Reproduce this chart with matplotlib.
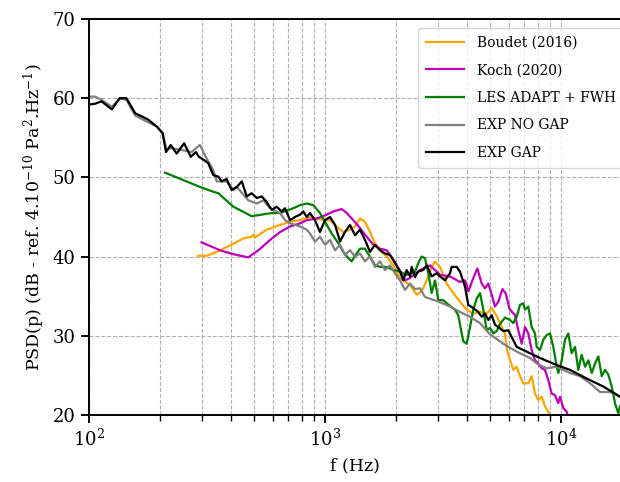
import numpy as np
import matplotlib
matplotlib.use('Agg')
import matplotlib.pyplot as plt

plt.rcParams['font.family'] = 'DejaVu Serif'
plt.rcParams['mathtext.fontset'] = 'dejavuserif'

# Boudet (2016)
f_boudet = [290, 315, 348, 396, 451, 489, 497, 505, 566, 645, 711, 784, 864, 1000, 1050,
            1139, 1196, 1276, 1340, 1407, 1477, 1551, 1629, 1710, 1826, 1947, 2079, 2292,
            2446, 2568, 2698, 2832, 2925, 3071, 3278, 3496, 3733, 3985, 4251, 4538, 4844,
            5085, 5339, 5550, 5790, 5900, 6078, 6277, 6490, 6703, 6922, 7267, 7513, 7758,
            8013, 8283, 8553, 8834, 8982]
p_boudet = [40.1, 40.1, 40.6, 41.4, 42.3, 42.5, 42.8, 42.4, 43.4, 44.0, 44.4, 44.6, 45.0, 44.6, 44.6,
            43.6, 43.1, 43.4, 43.8, 44.8, 44.4, 43.1, 41.7, 40.8, 40.0, 38.9, 37.3, 36.4,
            35.2, 35.6, 37.0, 38.7, 39.4, 38.7, 36.6, 35.4, 34.3, 33.3, 32.8, 33.0, 32.8,
            33.5, 32.5, 31.4, 30.3, 28.2, 27.0, 25.7, 26.1, 24.9, 24.0, 24.0, 24.9, 22.7,
            21.9, 22.3, 21.1, 20.4, 19.8]

# Koch (2020)
f_koch = [300, 359, 409, 473, 522, 585, 645, 711, 784, 837, 922, 1000, 1084, 1177, 1236,
          1318, 1407, 1502, 1602, 1710, 1826, 1947, 2079, 2183, 2292, 2526, 2786, 3071,
          3385, 3733, 3920, 4048, 4251, 4420, 4613, 4764, 4919, 5085, 5252, 5424, 5650,
          5840, 6050, 6383, 6593, 6815, 7038, 7267, 7513, 7758, 8013, 8283, 8553, 8834,
          9132, 9432, 9741, 9904, 10226, 10572, 10738]
p_koch = [41.8, 40.8, 40.3, 39.9, 40.8, 42.1, 43.1, 43.8, 44.2, 44.6, 44.8, 45.2, 45.7, 46.0, 45.5,
          44.6, 43.6, 42.5, 41.5, 41.0, 40.8, 39.6, 38.2, 37.0, 37.3, 38.3, 38.9, 37.7,
          37.5, 36.8, 37.0, 35.6, 37.3, 38.5, 36.6, 36.0, 36.6, 35.2, 33.7, 34.3, 35.9,
          35.3, 33.4, 32.6, 30.7, 29.0, 31.1, 30.3, 28.2, 26.9, 26.5, 25.9, 25.7, 24.4,
          22.7, 22.5, 21.5, 22.3, 20.9, 20.4, 19.8]

# LES ADAPT + FWH
f_les = [210, 295, 335, 353, 409, 489, 595, 645, 734, 784, 837, 892, 952, 1000, 1068,
         1139, 1196, 1255, 1297, 1362, 1407, 1477, 1551, 1629, 1710, 1826, 1947, 2079,
         2219, 2406, 2485, 2568, 2653, 2740, 2832, 2925, 3021, 3171, 3278, 3554, 3670,
         3795, 3855, 3985, 4115, 4251, 4394, 4538, 4686, 4844, 5002, 5165, 5339, 5514,
         5790, 6078, 6277, 6490, 6703, 6922, 7038, 7267, 7513, 7758, 7888, 8147, 8413,
         8697, 8982, 9277, 9590, 9741, 10070, 10397, 10738, 11100, 11464, 11840, 12240,
         12644, 13058, 13499, 13940, 14396, 14881, 15366, 15868, 16400, 16935, 17490, 17783]
p_les = [50.6, 48.8, 48.2, 48.0, 46.3, 45.1, 45.5, 45.5, 46.1, 46.5, 46.7, 46.5, 45.5, 44.4, 42.9,
         41.7, 40.6, 39.8, 39.4, 40.4, 41.0, 41.0, 40.0, 38.9, 38.7, 38.7, 38.3, 38.1,
         37.7, 38.1, 39.2, 40.0, 39.8, 37.9, 35.4, 37.0, 34.5, 34.5, 34.1, 33.3, 32.6,
         30.3, 29.3, 29.0, 31.1, 33.3, 34.7, 35.4, 33.3, 30.7, 31.0, 30.3, 30.6, 31.5,
         32.3, 32.0, 31.6, 32.4, 33.9, 34.1, 33.3, 33.7, 31.1, 30.3, 28.6, 28.2, 29.5,
         30.1, 30.3, 28.6, 26.1, 25.3, 26.9, 29.5, 30.3, 27.8, 28.6, 25.7, 27.6,
         26.1, 26.9, 25.3, 26.5, 27.4, 24.9, 25.7, 25.1, 23.6, 21.5, 20.2, 21.1]

# EXP NO GAP
f_nogap = [100, 106, 113, 125, 135, 144, 157, 194, 205, 213, 222, 253, 272, 295, 310,
           336, 348, 383, 409, 423, 473, 514, 548, 585, 645, 677, 711, 784, 837, 864,
           907, 952, 1000, 1050, 1103, 1158, 1215, 1276, 1340, 1407, 1477, 1551, 1629,
           1710, 1796, 1886, 1980, 2079, 2183, 2292, 2406, 2526, 2653, 2974, 3385, 3733,
           4115, 4538, 5002, 5695, 6490, 7389, 7888, 8697, 9590, 10917, 12038, 13277,
           14636, 16133, 17783]
p_nogap = [60.2, 60.2, 59.8, 58.9, 60.0, 59.8, 57.8, 56.4, 55.6, 53.5, 53.7, 53.4, 53.2, 54.1, 52.8,
           50.9, 49.5, 49.5, 48.4, 48.8, 47.1, 46.7, 47.1, 46.1, 45.5, 44.6, 44.2, 43.8, 43.4, 42.9,
           41.9, 42.5, 41.5, 42.1, 40.8, 41.5, 40.2, 40.8, 40.0, 40.4, 39.4, 40.0, 38.7,
           39.4, 38.3, 38.9, 37.9, 37.0, 35.8, 36.6, 35.9, 36.0, 34.9, 34.4, 33.7, 33.0,
           32.4, 31.6, 30.2, 29.0, 28.0, 27.2, 26.5, 25.9, 26.1, 25.3, 24.9, 24.0,
           22.9, 22.9, 22.3]

# EXP GAP
f_gap = [100, 106, 113, 125, 135, 144, 157, 170, 178, 194, 205, 212, 222, 235, 253,
         270, 284, 292, 307, 320, 336, 353, 365, 383, 402, 423, 444, 466, 489, 514,
         539, 566, 595, 624, 655, 677, 711, 746, 784, 809, 837, 864, 907, 952, 1000,
         1050, 1103, 1158, 1215, 1276, 1340, 1407, 1477, 1551, 1629, 1710, 1796, 1886,
         1980, 2079, 2147, 2219, 2292, 2330, 2406, 2478, 2602, 2698, 2832, 2974, 3071,
         3224, 3385, 3442, 3614, 3733, 3920, 4048, 4251, 4463, 4613, 4764, 4919, 5085,
         5252, 5424, 5695, 5978, 6490, 6922, 7631, 8147, 9590, 10917, 12855, 15113,
         16935, 17783]
p_gap = [59.2, 59.3, 59.6, 58.6, 60.0, 60.0, 58.1, 57.6, 57.3, 56.4, 55.6, 53.2, 54.1, 53.0, 54.3,
         52.6, 53.2, 52.6, 52.2, 51.8, 50.3, 50.1, 49.5, 49.8, 48.4, 48.8, 49.5, 47.6, 48.0, 47.4,
         47.6, 46.9, 45.9, 46.3, 45.7, 46.1, 44.6, 45.0, 45.3, 45.7, 45.0, 45.5, 44.6, 43.1, 44.6,
         45.0, 44.0, 41.9, 43.1, 44.0, 42.7, 43.4, 42.1, 40.6, 41.5, 40.8, 40.4, 40.2,
         39.2, 38.1, 37.0, 38.3, 37.5, 38.7, 37.4, 38.1, 38.3, 38.9, 37.5, 37.9, 37.5,
         37.0, 37.9, 38.7, 38.7, 38.1, 36.2, 33.9, 33.5, 33.0, 32.4, 32.8, 32.0, 32.6,
         31.4, 31.1, 30.6, 30.7, 28.6, 28.2, 27.6, 27.2, 26.3, 25.7, 24.6, 23.6,
         22.7, 22.3]

fig = plt.figure(figsize=(6.2, 4.82), dpi=100)
ax = fig.add_axes([89/620, 1-415/482, 1-89/620, (415-19)/482])

lw = 1.6
ax.plot(f_boudet, p_boudet, color='orange', lw=lw, label='Boudet (2016)')
ax.plot(f_koch, p_koch, color='m', lw=lw, label='Koch (2020)')
ax.plot(f_les, p_les, color='green', lw=lw, label='LES ADAPT + FWH')
ax.plot(f_nogap, p_nogap, color='gray', lw=lw, label='EXP NO GAP')
ax.plot(f_gap, p_gap, color='black', lw=lw, label='EXP GAP')

ax.set_xscale('log')
ax.set_xlim(100, 17783)
ax.set_ylim(20, 70)
ax.set_yticks([20, 30, 40, 50, 60, 70])
ax.grid(which='major', ls='--', color='#b0b0b0', lw=0.8)
ax.grid(which='minor', axis='x', ls='--', color='#b0b0b0', lw=0.8)

for s in ['left', 'bottom', 'top']:
    ax.spines[s].set_linewidth(1.4)
ax.spines['right'].set_visible(False)
ax.tick_params(which='major', length=6, width=1.4, labelsize=13)
ax.tick_params(which='minor', length=4, width=1.0)

ax.set_xlabel('f (Hz)', fontsize=12.5, labelpad=6)
ax.set_ylabel(r'PSD(p) (dB - ref. 4.10$^{-10}$ Pa$^2$.Hz$^{-1}$)', fontsize=12.5)

ax.legend(loc='upper left', bbox_to_anchor=(418/620, 1-28/482), bbox_transform=fig.transFigure,
          fontsize=10, handlelength=2.75, handletextpad=0.95, labelspacing=0.98,
          borderpad=0.55, framealpha=0.8, borderaxespad=0)

fig.savefig('out.png', dpi=100)
